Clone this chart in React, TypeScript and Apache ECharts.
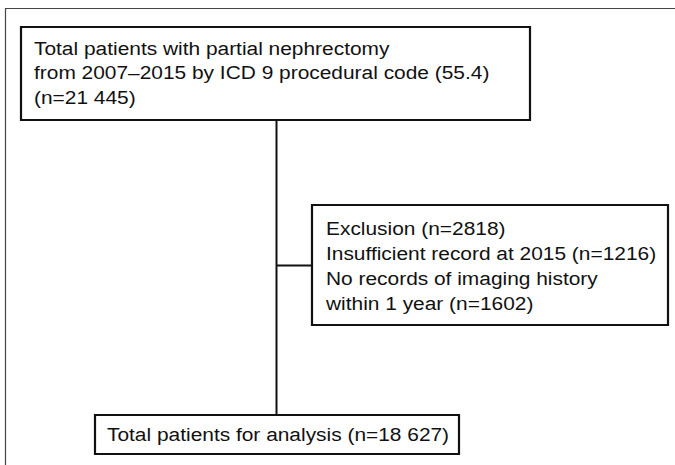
import React, { useEffect, useRef } from "react";
import * as echarts from "echarts";

const topLines = [
  "Total patients with partial nephrectomy",
  "from 2007–2015 by ICD 9 procedural code (55.4)",
  "(n=21 445)",
];
const exclusionLines = [
  "Exclusion (n=2818)",
  "Insufficient record at 2015 (n=1216)",
  "No records of imaging history",
  "within 1 year (n=1602)",
];
const bottomLines = ["Total patients for analysis (n=18 627)"];

const FONT = "Liberation Sans, Arial, Helvetica, sans-serif";

export default function App() {
  const ref = useRef<HTMLDivElement>(null);
  useEffect(() => {
    document.body.style.margin = "0";
    if (!ref.current) return;
    const chart = echarts.init(ref.current, null, { renderer: "svg" });
    const textStyle = { fill: "#111", fontSize: 19, fontFamily: FONT };
    const box = (x: number, y: number, w: number, h: number) => ({
      type: "rect",
      shape: { x, y, width: w, height: h },
      style: { fill: "#fff", stroke: "#111", lineWidth: 2.2 },
    });
    const lines = (arr: string[], x: number, y0: number, step: number) =>
      arr.map((t, i) => ({
        type: "text",
        x,
        y: y0 + i * step,
        scaleX: 1.1,
        style: { ...textStyle, text: t, verticalAlign: "middle" },
      }));
    chart.setOption({
      animation: false,
      backgroundColor: "#fff",
      graphic: [
        {
          type: "polyline",
          shape: { points: [[5.5, 470], [5.5, 8.5], [680, 8.5]] },
          style: { stroke: "#444", lineWidth: 1.2, fill: "none" },
        },
        {
          type: "line",
          shape: { x1: 276.5, y1: 120, x2: 276.5, y2: 415 },
          style: { stroke: "#111", lineWidth: 2 },
        },
        {
          type: "line",
          shape: { x1: 276.5, y1: 265.5, x2: 312, y2: 265.5 },
          style: { stroke: "#111", lineWidth: 2 },
        },
        box(21, 27, 509, 93),
        box(312, 205, 356, 120),
        box(95, 415, 364, 39),
        ...lines(topLines, 34, 48, 24.5),
        ...lines(exclusionLines, 326, 228.5, 25),
        ...lines(bottomLines, 107, 434, 25),
      ],
    });
    return () => chart.dispose();
  }, []);
  return <div ref={ref} style={{ width: 675, height: 465 }} />;
}
